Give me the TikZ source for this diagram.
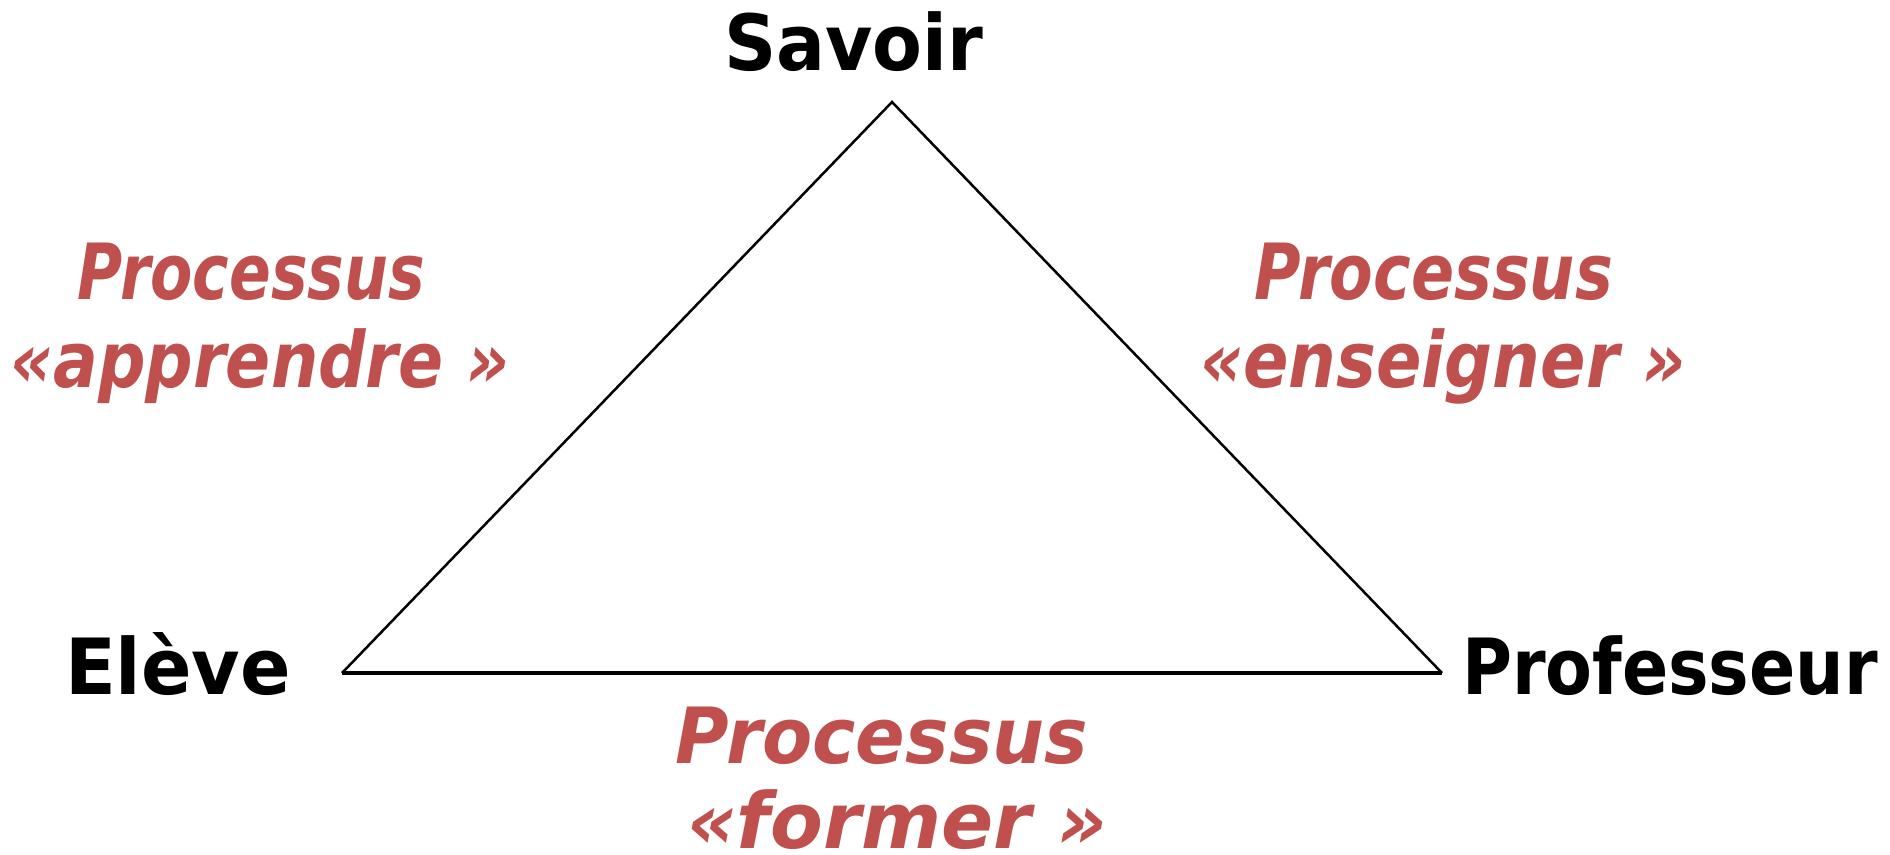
\documentclass[tikz,border=0pt]{standalone}
\usepackage{fontspec}
\setmainfont{DejaVu Sans}
\usepackage{graphicx}
\definecolor{procred}{HTML}{C0504D}
\newcommand\fitw[2]{\sbox0{#2}\scalebox{\fpeval{#1/\the\wd0}}[1]{\usebox0}}
\tikzset{
  vertexlbl/.style={inner sep=0, anchor=base, text=black,
    font=\fontsize{77.5}{80}\selectfont\bfseries},
  proclbl/.style={inner sep=0, anchor=base, text=procred,
    font=\fontsize{77.5}{80}\selectfont\bfseries\itshape},
  edge/.style={draw=black, line width=2.5pt, line join=miter},
  baseedge/.style={draw=black, line width=3.8pt}
}
\begin{document}
\begin{tikzpicture}[x=1pt,y=-1pt]
\useasboundingbox (0,0) rectangle (1890,854);
\coordinate (S) at (892,102);
\coordinate (E) at (342,673);
\coordinate (P) at (1442,673);
\draw[edge] (E) -- (S) -- (P);
\draw[baseedge] (E) -- (P);
\node[vertexlbl] (savoir) at (853.5,70) {\fitw{259pt}{Savoir}};
\node[vertexlbl] (eleve) at (178,694) {\fitw{226pt}{Elève}};
\node[vertexlbl] (prof) at (1670,694) {\fitw{416pt}{Professeur}};
\node[proclbl] (pa1) at (251,299) {\fitw{348pt}{Processus}};
\node[proclbl] (pa2) at (260,387) {\fitw{500pt}{«apprendre »}};
\node[proclbl] (pe1) at (1433.5,299) {\fitw{359pt}{Processus}};
\node[proclbl] (pe2) at (1443,387) {\fitw{486pt}{«enseigner »}};
\node[proclbl] (pf1) at (881.5,763) {\fitw{413pt}{Processus}};
\node[proclbl] (pf2) at (897.5,848) {\fitw{421pt}{«former »}};
\end{tikzpicture}
\end{document}
